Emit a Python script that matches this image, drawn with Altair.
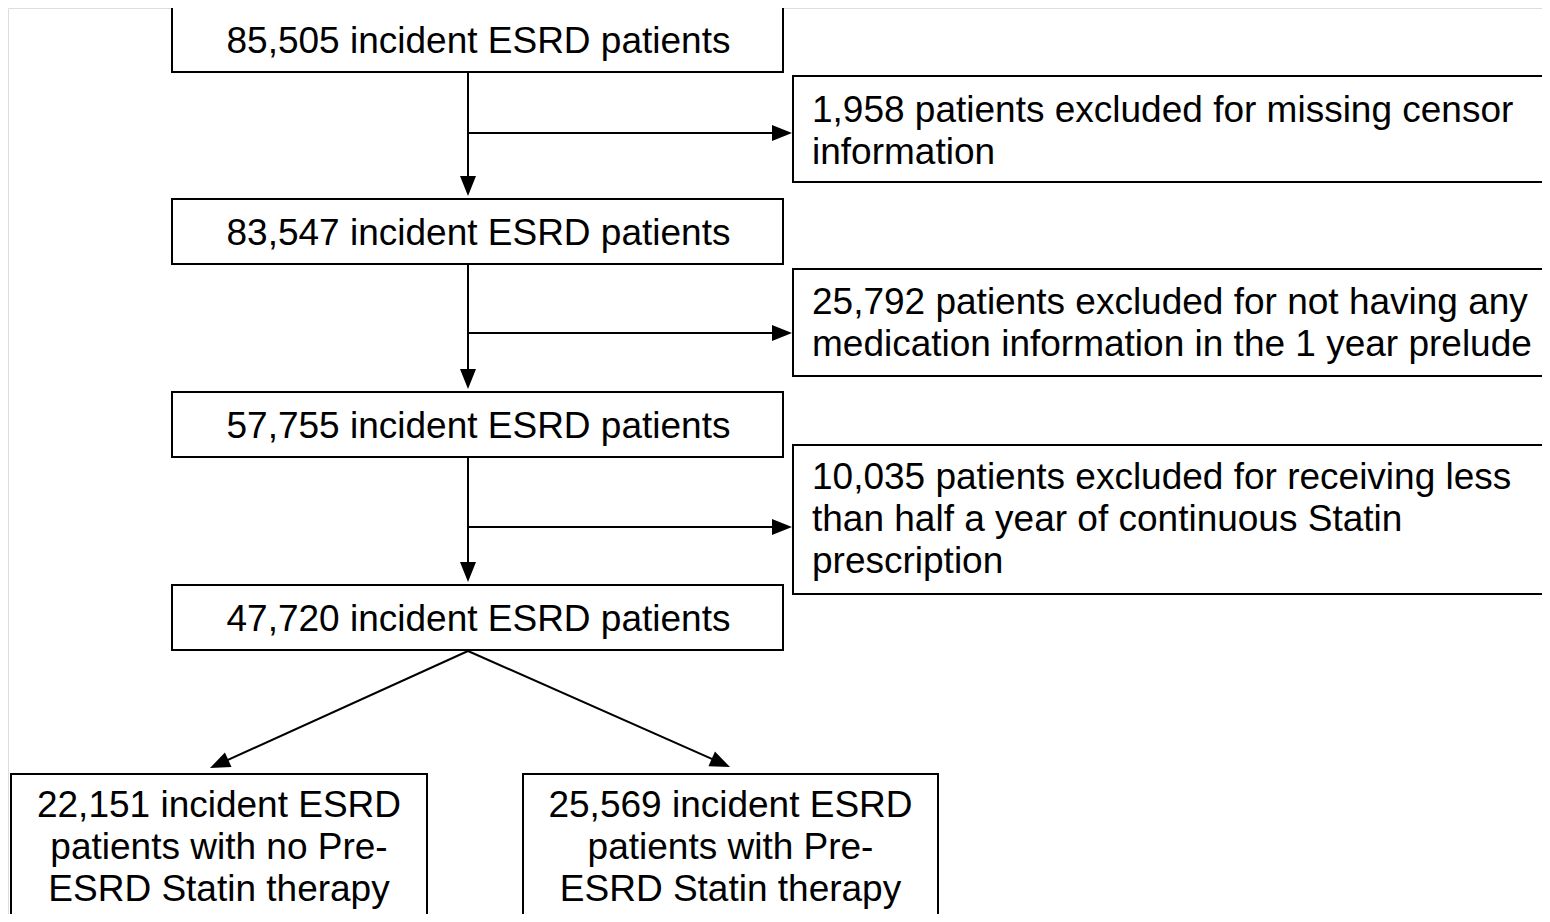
import math
import altair as alt
import pandas as pd

# ---------------- content ----------------
main_labels = [
    "85,505 incident ESRD patients",
    "83,547 incident ESRD patients",
    "57,755 incident ESRD patients",
    "47,720 incident ESRD patients",
]
excl_labels = [
    ["1,958 patients excluded for missing censor", "information"],
    ["25,792 patients excluded for not having any",
     "medication information in the 1 year prelude"],
    ["10,035 patients excluded for receiving less",
     "than half a year of continuous Statin", "prescription"],
]
split_labels = [
    ["22,151 incident ESRD", "patients with no Pre-", "ESRD Statin therapy"],
    ["25,569 incident ESRD", "patients with Pre-", "ESRD Statin therapy"],
]

# ---------------- layout (pixel grid of the picture) ----------------
W, H = 1534, 906          # drawing area; page margin is 8 px
MAIN_X = (172, 783)
MAIN_TOPS = [7, 199, 392, 585]
MAIN_H = 65
SPINE_X = 468
EXCL_X = (793, 1562)
EXCL_TOPS = [76, 269, 445]
EXCL_BOTTOMS = [182, 376, 594]
EXCL_ARROW_Y = [133, 333, 527]
EXCL_FIRST_BASE = [122, 314, 489]
EXCL_TEXT_X = 812
LINE_GAP = 42
SPLIT_X = [(11, 427), (523, 938)]
SPLIT_TOP = 774
SPLIT_BOTTOM = 935
SPLIT_TIPS = [(210, 768), (730, 767)]
SPLIT_FIRST_BASE = 817
SPLIT_GAP = 42
FONT = "Liberation Sans"
FS = 37

boxes, texts_c, texts_l, segs, heads = [], [], [], [], []

for i, lab in enumerate(main_labels):
    t = MAIN_TOPS[i]
    boxes.append(dict(x=MAIN_X[0], x2=MAIN_X[1], y=t, y2=t + MAIN_H))
    texts_c.append(dict(x=(MAIN_X[0] + MAIN_X[1]) / 2 + 1, y=t + 46, text=lab))

for i, lines in enumerate(excl_labels):
    boxes.append(dict(x=EXCL_X[0], x2=EXCL_X[1], y=EXCL_TOPS[i], y2=EXCL_BOTTOMS[i]))
    for k, ln in enumerate(lines):
        texts_l.append(dict(x=EXCL_TEXT_X, y=EXCL_FIRST_BASE[i] + k * LINE_GAP, text=ln))
    y0 = MAIN_TOPS[i] + MAIN_H
    tip = MAIN_TOPS[i + 1] - 3
    segs.append(dict(x=SPINE_X, y=y0, x2=SPINE_X, y2=tip - 10))
    heads.append(dict(x=SPINE_X, y=tip, angle=0))
    ay = EXCL_ARROW_Y[i]
    segs.append(dict(x=SPINE_X + 1, y=ay, x2=EXCL_X[0] - 8, y2=ay))
    heads.append(dict(x=EXCL_X[0] - 1, y=ay, angle=270))

apex = (SPINE_X, MAIN_TOPS[3] + MAIN_H + 1)
for j, lines in enumerate(split_labels):
    bx = SPLIT_X[j]
    boxes.append(dict(x=bx[0], x2=bx[1], y=SPLIT_TOP, y2=SPLIT_BOTTOM))
    for k, ln in enumerate(lines):
        texts_c.append(dict(x=(bx[0] + bx[1]) / 2, y=SPLIT_FIRST_BASE + k * SPLIT_GAP, text=ln))
    tx, ty = SPLIT_TIPS[j]
    dx, dy = tx - apex[0], ty - apex[1]
    L = math.hypot(dx, dy)
    segs.append(dict(x=apex[0], y=apex[1], x2=tx - dx / L * 10, y2=ty - dy / L * 10))
    ang = math.degrees(math.atan2(-dx, dy)) % 360
    heads.append(dict(x=tx, y=ty, angle=ang))

xs = alt.Scale(domain=[8, 8 + W], nice=False, zero=False)
ys = alt.Scale(domain=[8, 8 + H], nice=False, zero=False, reverse=True)
X = lambda f="x": alt.X(f + ":Q", scale=xs, axis=None)
Y = lambda f="y": alt.Y(f + ":Q", scale=ys, axis=None)

box_layer = alt.Chart(pd.DataFrame(boxes)).mark_rect(
    fill="white", stroke="black", strokeWidth=2
).encode(x=X(), x2="x2:Q", y=Y(), y2="y2:Q")

seg_layer = alt.Chart(pd.DataFrame(segs)).mark_rule(
    color="black", strokeWidth=2
).encode(x=X(), x2="x2:Q", y=Y(), y2="y2:Q")

head_layer = alt.Chart(pd.DataFrame(heads)).mark_point(
    shape="M0,0L-0.4,-1L0.4,-1Z", size=1600, filled=True,
    color="black", opacity=1, strokeWidth=0
).encode(x=X(), y=Y(), angle=alt.Angle("angle:Q", scale=None))

text_c_layer = alt.Chart(pd.DataFrame(texts_c)).mark_text(
    font=FONT, fontSize=FS, align="center", baseline="alphabetic", color="black"
).encode(x=X(), y=Y(), text="text:N")

text_l_layer = alt.Chart(pd.DataFrame(texts_l)).mark_text(
    font=FONT, fontSize=FS, align="left", baseline="alphabetic", color="black"
).encode(x=X(), y=Y(), text="text:N")

chart = alt.layer(
    seg_layer, box_layer, head_layer, text_c_layer, text_l_layer
).properties(
    width=W, height=H, padding=0, autosize=alt.AutoSizeParams(type="none")
).configure_view(stroke=None).configure(background="white")

chart.save("out.html", embed_options={"renderer": "svg", "actions": False})
